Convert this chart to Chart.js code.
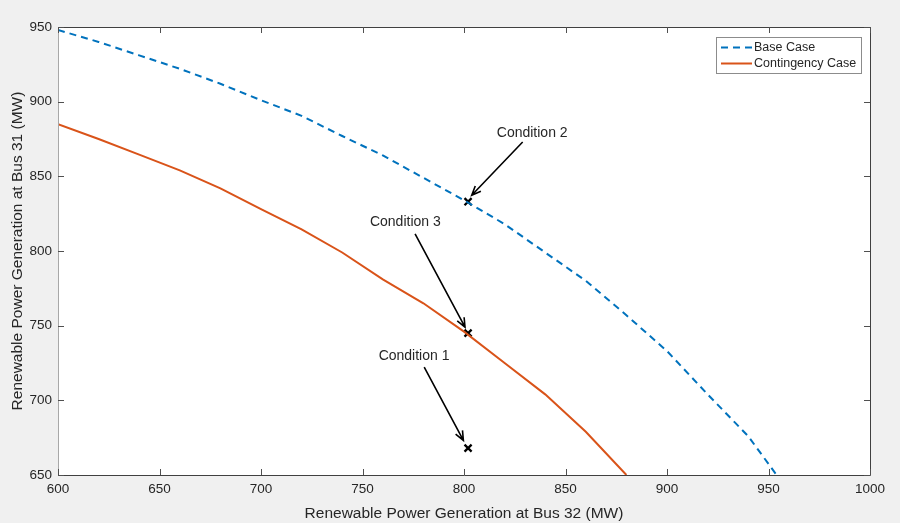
<!DOCTYPE html>
<html>
<head>
<meta charset="utf-8">
<script src="https://cdn.jsdelivr.net/npm/chart.js@4.4.1/dist/chart.umd.min.js"></script>
<style>
html, body { margin: 0; padding: 0; background: #fff; }
#wrap { position: relative; width: 900px; height: 523px; background: #f0f0f0; }
</style>
</head>
<body>
<div id="wrap"><canvas id="chart" width="900" height="523"></canvas></div>
<script>
// Loadability boundary (MW)
const baseX = [600, 620, 640, 660, 680, 700, 720, 740, 760, 780, 800, 820, 840, 860, 880, 900, 920, 940, 954];
const baseY = [948, 940, 931, 922, 912, 901, 890.5, 877, 864, 849, 834, 818, 799, 780, 757, 733, 704, 676, 650];

const contX = [600, 620, 640, 660, 680, 700, 720, 740, 760, 780, 800, 820, 840, 860, 880];
const contY = [885, 875, 864.5, 854, 842, 828, 814.5, 799, 781, 765, 746, 725, 704, 679, 650];

// Operating points marked with x
const condLabels = ['Condition 1', 'Condition 2', 'Condition 3'];
const condX = [802, 802, 802];
const condY = [668, 833, 745];

// Annotation text centre and arrow start/end, in data units
const noteX = [775.4, 833.6, 771.1];
const noteY = [729.7, 879, 819.4];
const arrowFromX = [780.4, 828.9, 775.9];
const arrowFromY = [722.3, 873, 811.5];
const arrowToX = [799.7, 803.8, 800.5];
const arrowToY = [673.2, 837.3, 749];

const xTicks = [600, 650, 700, 750, 800, 850, 900, 950, 1000];
const yTicks = [650, 700, 750, 800, 850, 900, 950];

const FONT = "'Liberation Sans', Arial, Helvetica, sans-serif";
const TXT = '#262626';

function toPoints(xs, ys) {
    return xs.map((x, i) => ({ x: x, y: ys[i] }));
}

function drawArrow(ctx, x1, y1, x2, y2) {
    const ang = Math.atan2(y2 - y1, x2 - x1);
    const len = 10;
    ctx.beginPath();
    ctx.moveTo(x1, y1);
    ctx.lineTo(x2, y2);
    ctx.moveTo(x2 - len * Math.cos(ang - 0.4), y2 - len * Math.sin(ang - 0.4));
    ctx.lineTo(x2, y2);
    ctx.lineTo(x2 - len * Math.cos(ang + 0.4), y2 - len * Math.sin(ang + 0.4));
    ctx.stroke();
}

// Matlab style box, inward ticks, legend and the condition arrows
const matlabPlugin = {
    id: 'matlabBox',
    beforeDraw(chart) {
        const a = chart.chartArea;
        const ctx = chart.ctx;
        ctx.save();
        ctx.fillStyle = '#ffffff';
        ctx.fillRect(a.left, a.top, a.right - a.left, a.bottom - a.top);
        ctx.restore();
    },
    afterDraw(chart) {
        const a = chart.chartArea;
        const ctx = chart.ctx;
        const xs = chart.scales.x;
        const ys = chart.scales.y;
        const tl = 6;

        ctx.save();
        ctx.lineWidth = 1;
        ctx.strokeStyle = '#404040';
        ctx.beginPath();
        ctx.moveTo(a.left, a.top + 0.5);
        ctx.lineTo(a.right + 0.5, a.top + 0.5);
        ctx.lineTo(a.right + 0.5, a.bottom + 0.5);
        ctx.lineTo(a.left, a.bottom + 0.5);
        ctx.stroke();
        ctx.strokeStyle = '#a8a8a8';
        ctx.beginPath();
        ctx.moveTo(a.left + 0.5, a.top);
        ctx.lineTo(a.left + 0.5, a.bottom);
        ctx.stroke();

        ctx.strokeStyle = '#505050';
        xTicks.forEach(v => {
            const px = Math.round(xs.getPixelForValue(v)) + 0.5;
            ctx.beginPath();
            ctx.moveTo(px, a.bottom);
            ctx.lineTo(px, a.bottom - tl);
            ctx.moveTo(px, a.top);
            ctx.lineTo(px, a.top + tl);
            ctx.stroke();
        });
        yTicks.forEach(v => {
            const py = Math.round(ys.getPixelForValue(v)) + 0.5;
            ctx.beginPath();
            ctx.moveTo(a.left, py);
            ctx.lineTo(a.left + tl, py);
            ctx.moveTo(a.right, py);
            ctx.lineTo(a.right - tl, py);
            ctx.stroke();
        });

        // annotations
        ctx.fillStyle = TXT;
        ctx.font = '14px ' + FONT;
        ctx.textAlign = 'center';
        ctx.textBaseline = 'middle';
        ctx.strokeStyle = '#000000';
        ctx.lineWidth = 1.6;
        condLabels.forEach((lab, i) => {
            ctx.fillText(lab, xs.getPixelForValue(noteX[i]), ys.getPixelForValue(noteY[i]));
            drawArrow(ctx,
                xs.getPixelForValue(arrowFromX[i]), ys.getPixelForValue(arrowFromY[i]),
                xs.getPixelForValue(arrowToX[i]), ys.getPixelForValue(arrowToY[i]));
        });

        // legend
        const lx = a.right - 154, ly = a.top + 10, lw = 145, lh = 36;
        ctx.fillStyle = '#ffffff';
        ctx.fillRect(lx, ly, lw, lh);
        ctx.strokeStyle = '#8c8c8c';
        ctx.lineWidth = 1;
        ctx.strokeRect(lx + 0.5, ly + 0.5, lw, lh);
        ctx.font = '12.5px ' + FONT;
        ctx.textAlign = 'left';
        chart.data.datasets.slice(0, 2).forEach((ds, i) => {
            const yy = ly + 10.5 + i * 16;
            ctx.strokeStyle = ds.borderColor;
            ctx.lineWidth = 2;
            ctx.setLineDash(ds.borderDash || []);
            ctx.beginPath();
            ctx.moveTo(lx + 5, yy);
            ctx.lineTo(lx + 36, yy);
            ctx.stroke();
            ctx.setLineDash([]);
            ctx.fillStyle = TXT;
            ctx.fillText(ds.label, lx + 38, yy + 0.5);
        });
        ctx.restore();
    }
};

const ctx = document.getElementById('chart').getContext('2d');
new Chart(ctx, {
    type: 'scatter',
    data: {
        datasets: [{
            label: 'Base Case',
            data: toPoints(baseX, baseY),
            showLine: true,
            borderColor: '#0072BD',
            borderWidth: 2,
            borderDash: [7, 5],
            pointRadius: 0,
            tension: 0
        }, {
            label: 'Contingency Case',
            data: toPoints(contX, contY),
            showLine: true,
            borderColor: '#D95319',
            borderWidth: 2,
            pointRadius: 0,
            tension: 0
        }, {
            label: 'Conditions',
            data: toPoints(condX, condY),
            showLine: false,
            pointStyle: 'crossRot',
            pointRadius: 5,
            pointBorderWidth: 2.3,
            pointBorderColor: '#000000',
            borderColor: '#000000'
        }]
    },
    options: {
        responsive: false,
        animation: false,
        layout: { padding: { top: 27, right: 30, left: 0, bottom: 0 } },
        plugins: {
            legend: { display: false },
            tooltip: { enabled: false }
        },
        scales: {
            x: {
                type: 'linear',
                min: 600,
                max: 1000,
                afterFit: s => { s.height = 48; },
                afterBuildTicks: s => { s.ticks = xTicks.map(v => ({ value: v })); },
                grid: { display: false, drawTicks: false },
                border: { display: false },
                ticks: {
                    padding: 6, color: TXT, font: { family: FONT, size: 13.5 },
                    callback: v => String(v)
                },
                title: {
                    display: true,
                    text: 'Renewable Power Generation at Bus 32 (MW)',
                    color: TXT,
                    font: { family: FONT, size: 15.5 },
                    padding: { top: 2, bottom: 0 }
                }
            },
            y: {
                type: 'linear',
                min: 650,
                max: 950,
                afterFit: s => { s.width = 58; },
                afterBuildTicks: s => { s.ticks = yTicks.map(v => ({ value: v })); },
                grid: { display: false, drawTicks: false },
                border: { display: false },
                ticks: {
                    padding: 6, color: TXT, font: { family: FONT, size: 13.5 },
                    callback: v => String(v)
                },
                title: {
                    display: true,
                    text: 'Renewable Power Generation at Bus 31 (MW)',
                    color: TXT,
                    font: { family: FONT, size: 15.5 },
                    padding: { top: 8, bottom: 0 }
                }
            }
        }
    },
    plugins: [matlabPlugin]
});
</script>
</body>
</html>
